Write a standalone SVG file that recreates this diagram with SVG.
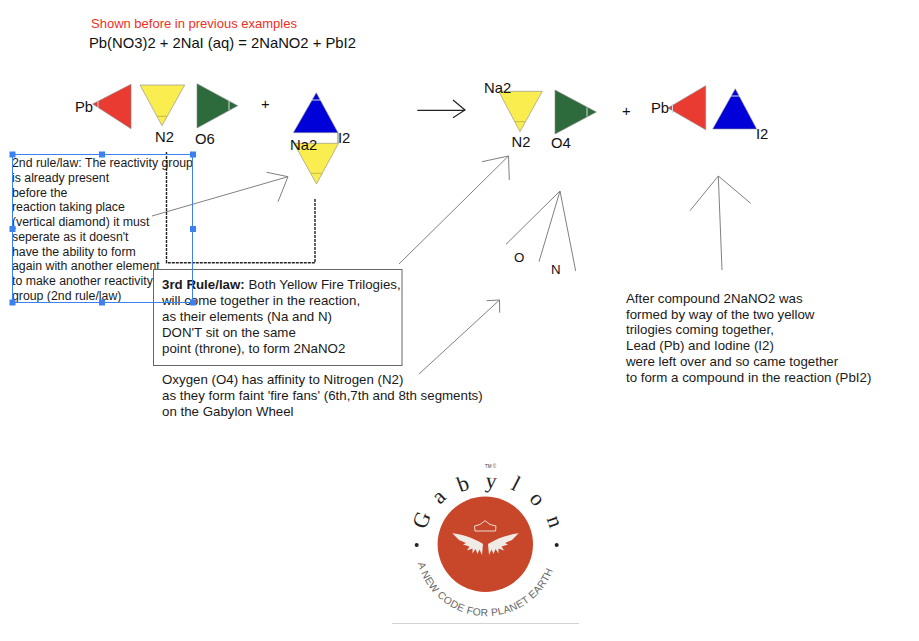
<svg xmlns="http://www.w3.org/2000/svg" width="919" height="641" viewBox="0 0 919 641">
<style>
text{font-family:"Liberation Sans",Arial,sans-serif;fill:#1a1a1a}
.t{font-size:12.3px}
.b{font-size:13.3px}
.l{font-size:14.8px;fill:#111}
.s{font-size:13.3px;fill:#111}
.red{fill:#ea3b33;stroke:#888;stroke-width:.6}
.yel{fill:#f9ed4f;stroke:#888;stroke-width:.6}
.grn{fill:#2d6a3c;stroke:#888;stroke-width:.6}
.blu{fill:#0000d8;stroke:#999;stroke-width:.6}
.seg{fill:none;stroke:#c9b840;stroke-width:1}
.segw{fill:none;stroke:#d9d9d9;stroke-width:1}
.arr{fill:none;stroke:#808080;stroke-width:1}
.h{fill:#3b82f0}
.g{font-family:"Liberation Serif",serif;font-size:22px;fill:#222;text-anchor:middle}
</style>
<rect width="919" height="641" fill="#fff"/>
<g id="heading">
<text x="91" y="28" style="font-size:13px;fill:#ee3024">Shown before in previous examples</text>
<text x="89" y="48" class="l">Pb(NO3)2 + 2NaI (aq) = 2NaNO2 + PbI2</text>
</g>
<g id="connectors">
<path class="arr" d="M152 216L288 176.700M266.700 172.300L288 176.700L278 201.700"/>
<path d="M166.500 152V262.700H315V199" fill="none" stroke="#222" stroke-width="1.400" stroke-dasharray="3 1"/>
<path class="arr" d="M399 264L508.500 156M482 161.700L508.500 156L509.300 180"/>
<path class="arr" d="M419 374L499.500 300M486.700 300.700L499.500 300L499.700 312.700"/>
<path class="arr" d="M506 244.300L560 191L539 261.700M560 191L575.700 271"/>
<path class="arr" d="M690 210.700L718.300 176L722 270M718.300 176L750.700 203.300"/>
<path d="M417.300 110.300H465M453 100L465 110L453 117.700" fill="none" stroke="#222" stroke-width="1.200"/>
</g>
<g id="node-pb-left"><polygon class="red" points="92.700,104 131,84.300 131,128.700"/><path class="segw" d="M98 100V108"/><text class="l" x="75" y="112">Pb</text></g>
<g id="node-n2-left"><polygon class="yel" points="140,85 184.700,85 162,125.700"/><path class="seg" d="M157 116.300H167"/><text class="l" x="155" y="142">N2</text></g>
<g id="node-o6"><polygon class="grn" points="197,83.700 237.700,105.700 197,128"/><path class="segw" d="M229 101V110"/><text class="l" x="195" y="144">O6</text></g>
<g id="plus-left"><text x="261" y="109" class="l">+</text></g>
<g id="node-diamond">
<polygon class="blu" points="316.300,92.700 293.300,132.700 338,132.700"/><path class="segw" d="M312 100H321"/>
<path d="M338 132.700V143.300" stroke="#666" stroke-width=".9" fill="none"/>
<polygon class="yel" points="294,143.300 338.500,143.300 316.500,184"/><path class="seg" d="M311 173.300H322"/>
<text class="l" x="290" y="150">Na2</text><text class="l" x="338" y="143">I2</text>
</g>
<g id="node-na2-right"><polygon class="yel" points="498.700,91.300 542.300,91.300 520,131.700"/><path class="seg" d="M515 121.700H525"/><text class="l" x="484" y="92.500">Na2</text><text class="l" x="511.500" y="147">N2</text></g>
<g id="node-o4"><polygon class="grn" points="555,90 596.300,112 555,134"/><path class="segw" d="M587 107.500V116.500"/><text class="l" x="551" y="147.500">O4</text></g>
<g id="plus-right"><text x="622" y="116" class="l">+</text></g>
<g id="node-pb-right"><polygon class="red" points="668,108 705.700,85.700 705.700,129.700"/><path class="segw" d="M672.500 104V113"/><text class="l" x="651" y="113">Pb</text></g>
<g id="node-i2-right"><polygon class="blu" points="735.300,88.700 712.700,129 756.700,129"/><path class="segw" d="M731 96H740"/><text class="l" x="756" y="139">I2</text></g>
<g id="label-o"><text class="s" x="514" y="262">O</text></g>
<g id="label-n"><text class="s" x="551" y="274">N</text></g>
<g id="rule2">
<text class="t" x="12" y="167">2nd rule/law: The reactivity group</text>
<text class="t" x="12" y="182">is already present</text>
<text class="t" x="12" y="197">before the</text>
<text class="t" x="12" y="211">reaction taking place</text>
<text class="t" x="12" y="226">(vertical diamond) it must</text>
<text class="t" x="12" y="241">seperate as it doesn't</text>
<text class="t" x="12" y="256">have the ability to form</text>
<text class="t" x="12" y="270">again with another element</text>
<text class="t" x="12" y="285">to make another reactivity</text>
<text class="t" x="12" y="300">group (2nd rule/law)</text>
</g>
<g id="rule3">
<rect x="153.500" y="269.500" width="248.500" height="96" fill="#fff" stroke="#666" stroke-width="1"/>
<text class="b" x="162" y="289"><tspan font-weight="bold">3rd Rule/law:</tspan> Both Yellow Fire Trilogies,</text>
<text class="b" x="162" y="305">will come together in the reaction,</text>
<text class="b" x="162" y="321">as their elements (Na and N)</text>
<text class="b" x="162" y="337">DON'T sit on the same</text>
<text class="b" x="162" y="353">point (throne), to form 2NaNO2</text>
</g>
<g id="selection">
<rect x="12.500" y="154.500" width="180" height="148" fill="none" stroke="#3b82f0" stroke-width="1"/>
<rect class="h" x="9.500" y="151.500" width="6" height="6"/><rect class="h" x="99" y="151.500" width="6" height="6"/><rect class="h" x="190" y="151.500" width="6" height="6"/>
<rect class="h" x="9.500" y="226" width="6" height="6"/><rect class="h" x="190" y="226" width="6" height="6"/>
<rect class="h" x="9.500" y="299.500" width="6" height="6"/><rect class="h" x="99" y="299.500" width="6" height="6"/><rect class="h" x="190" y="299.500" width="6" height="6"/>
</g>
<g id="note-oxygen">
<text class="b" x="162" y="384">Oxygen (O4) has affinity to Nitrogen (N2)</text>
<text class="b" x="162" y="400">as they form faint 'fire fans' (6th,7th and 8th segments)</text>
<text class="b" x="162" y="416">on the Gabylon Wheel</text>
</g>
<g id="note-compound">
<text class="b" x="626" y="303">After compound 2NaNO2 was</text>
<text class="b" x="626" y="319">formed by way of the two yellow</text>
<text class="b" x="626" y="334">trilogies coming together,</text>
<text class="b" x="626" y="350">Lead (Pb) and Iodine (I2)</text>
<text class="b" x="626" y="366">were left over and so came together</text>
<text class="b" x="626" y="382">to form a compound in the reaction (PbI2)</text>
</g>
<g id="logo">
<defs>
<path id="arcBot" d="M417.900 563.400A71 71 0 0 0 555.100 563.400"/>
<path id="wing" d="M452.300 533.300C462 534.500 474 538 483 544L482 555L479.500 549.500L477.500 554L475.500 549L472.500 553.500L472.500 548.500L467 550.500L469.500 546.500L463 544.500L466 543L459 540Z" fill="#f1ebe6"/>
</defs>
<circle cx="485.300" cy="544.300" r="47.700" fill="#c8472a"/>
<circle cx="416.700" cy="545" r="2" fill="#222"/><circle cx="556.700" cy="545" r="2" fill="#222"/>
<text class="g" transform="translate(421.700 520) rotate(-68)" y="7">G</text>
<text class="g" transform="translate(440 498) rotate(-44)" y="5">a</text>
<text class="g" transform="translate(463 484) rotate(-20)" y="7">b</text>
<text class="g" transform="translate(491 483) rotate(5.500)" y="5">y</text>
<text class="g" transform="translate(516 484) rotate(27)" y="7">l</text>
<text class="g" transform="translate(536 500) rotate(48.600)" y="5">o</text>
<text class="g" transform="translate(553 522) rotate(71)" y="5">n</text>
<text x="485" y="468" style="font-size:4.500px;fill:#333">TM ©</text>
<text style="font-size:10.300px;fill:#666;letter-spacing:.3px"><textPath href="#arcBot" startOffset="0">A NEW CODE FOR PLANET EARTH</textPath></text>
<use href="#wing"/>
<use href="#wing" transform="translate(971 0) scale(-1 1)"/>
<path d="M475 531L474.500 526L480 524.500L485 520.700L490 524.500L496 526L495.500 531Z" fill="none" stroke="#f1ebe6" stroke-width=".9"/>
<path d="M392 623.500H579" stroke="#d4d4d4" stroke-width="1"/>
</g>
</svg>
